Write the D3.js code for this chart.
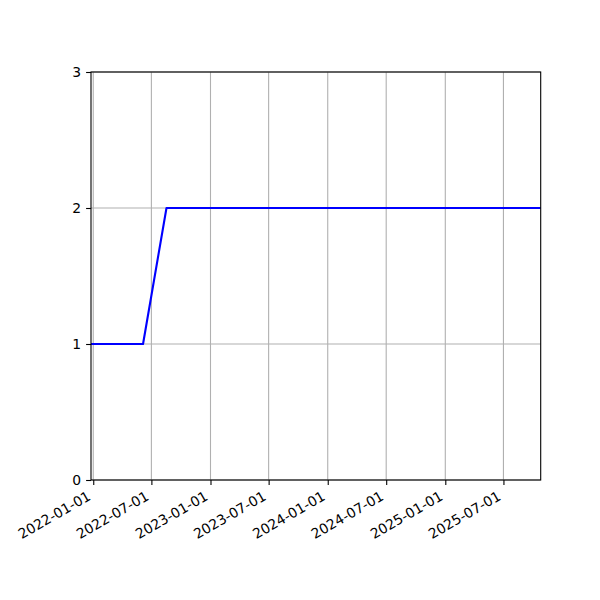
<!DOCTYPE html>
<html>
<head>
<meta charset="utf-8">
<script src="https://cdn.jsdelivr.net/npm/d3@7"></script>
<style>
  body { margin: 0; background: #fff; }
</style>
</head>
<body>
<div id="chart"></div>
<script>
const parseDate = d3.timeParse('%Y-%m-%d');
const formatDate = d3.timeFormat('%Y-%m-%d');

// series
const dates = ['2021-12-25', '2022-06-05', '2022-08-17', '2025-10-25'];
const values = [1, 1, 2, 2];

// ticks
const xTicks = ['2022-01-01', '2022-07-01', '2023-01-01', '2023-07-01',
                '2024-01-01', '2024-07-01', '2025-01-01', '2025-07-01'];
const yTicks = [0, 1, 2, 3];

const data = dates.map((d, i) => ({ date: parseDate(d), value: values[i] }));

const width = 600, height = 600;
const margin = { top: 72, right: 59.3, bottom: 120, left: 91 };
const w = width - margin.left - margin.right;
const h = height - margin.top - margin.bottom;
const font = "'DejaVu Sans', sans-serif";

const svg = d3.select('#chart').append('svg').attr('width', width).attr('height', height);
const g = svg.append('g').attr('transform', `translate(${margin.left},${margin.top})`);

const x = d3.scaleTime().domain(d3.extent(data, d => d.date)).range([0, w]);
const y = d3.scaleLinear().domain([0, 3]).range([h, 0]);

// Grid
g.append('g').selectAll('line').data(xTicks).join('line')
  .attr('x1', d => x(parseDate(d))).attr('x2', d => x(parseDate(d)))
  .attr('y1', 0).attr('y2', h)
  .style('stroke', '#b0b0b0').style('stroke-width', 1.1);
g.append('g').selectAll('line').data(yTicks).join('line')
  .attr('x1', 0).attr('x2', w)
  .attr('y1', d => y(d)).attr('y2', d => y(d))
  .style('stroke', '#b0b0b0').style('stroke-width', 1.1);

// Line
const line = d3.line().x(d => x(d.date)).y(d => y(d.value));
g.append('path').datum(data).attr('d', line)
  .style('fill', 'none').style('stroke', '#0000ff').style('stroke-width', 2.1)
  .style('stroke-linejoin', 'round');

// Axes
const xAxis = g.append('g').attr('transform', `translate(0,${h})`)
  .call(d3.axisBottom(x).tickValues(xTicks.map(parseDate)).tickFormat(formatDate)
    .tickSizeInner(4.9).tickSizeOuter(0).tickPadding(4.9));
xAxis.select('.domain').remove();
xAxis.selectAll('.tick line').style('stroke', '#000').style('stroke-width', 1.1);
xAxis.selectAll('.tick text')
  .style('font-family', font).style('font-size', '13.9px').style('fill', '#000')
  .attr('text-anchor', 'end').attr('dy', null).attr('y', 0)
  .attr('transform', 'translate(-2,19) rotate(-30)');

const yAxis = g.append('g')
  .call(d3.axisLeft(y).tickValues(yTicks).tickFormat(d3.format('d'))
    .tickSizeInner(4.9).tickSizeOuter(0).tickPadding(4.9));
yAxis.select('.domain').remove();
yAxis.selectAll('.tick line').style('stroke', '#000').style('stroke-width', 1.1);
yAxis.selectAll('.tick text').style('font-family', font).style('font-size', '13.9px').style('fill', '#000');

// Frame
g.append('rect').attr('width', w).attr('height', h)
  .style('fill', 'none').style('stroke', '#000').style('stroke-width', 1.1);
</script>
</body>
</html>
